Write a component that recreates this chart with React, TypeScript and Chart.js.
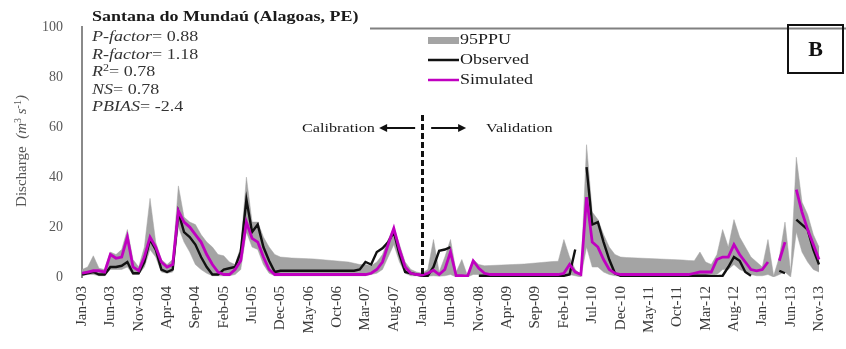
import React, { useEffect, useRef } from 'react';
import { Chart, registerables } from 'chart.js';

Chart.register(...registerables);

// Monthly series, Jan-03 (index 0) to Nov-13 (index 130), discharge in m³/s
const tickLabels = [
  'Jan-03', 'Jun-03', 'Nov-03', 'Apr-04', 'Sep-04', 'Feb-05', 'Jul-05', 'Dec-05', 'May-06',
  'Oct-06', 'Mar-07', 'Aug-07', 'Jan-08', 'Jun-08', 'Nov-08', 'Apr-09', 'Sep-09', 'Feb-10',
  'Jul-10', 'Dec-10', 'May-11', 'Oct-11', 'Mar-12', 'Aug-12', 'Jan-13', 'Jun-13', 'Nov-13',
];
const tickStep = 5; // months between labelled ticks
const splitIndex = 60; // Jan-08: calibration / validation boundary

const observed: (number | null)[] = [
  1, 1.5, 2, 1, 1, 4, 4, 4.5, 6, 1.5, 1.5, 6,
  15, 11, 3, 2, 3, 26, 18, 16, 13, 8, 4, 1,
  1, 3, 3.5, 4, 10, 31, 18, 21, 12, 6.5, 2, 2.5,
  2.5, 2.5, 2.5, 2.5, 2.5, 2.5, 2.5, 2.5, 2.5, 2.5, 2.5, 2.5,
  2.5, 3, 6, 5, 10, 11.5, 14, 18, 9, 2, 1.5, 1,
  0.5, 0.5, 4, 10.5, 11, 12, null, null, null, null, 0.5, 0.5,
  0.5, 0.5, 0.5, 0.5, 0.5, 0.5, 0.5, 0.5, 0.5, 0.5, 0.5, 0.5,
  0.5, 0.5, 1, 11, null, 44, 21, 22, 14, 7, 1.5, 0.5,
  0.5, 0.5, 0.5, 0.5, 0.5, 0.5, 0.5, 0.5, 0.5, 0.5, 0.5, 0.5,
  0.5, 0.5, 0.5, 0.3, 0.3, 0.5, 4, 8, 6.5, 2, 0.5, null,
  null, null, null, 2.5, 1.5, null, 23, 21, 19, 11, 5,
];

const simulated: (number | null)[] = [
  1.5, 2, 2.5, 2.5, 2, 9, 7.5, 8, 16, 4, 2.5, 8,
  16, 12, 6, 4, 5, 26.5, 22, 20, 17, 14, 9, 5,
  2, 1, 1, 3, 6.5, 22, 15.5, 14, 8, 3, 1, 1,
  1, 1, 1, 1, 1, 1, 1, 1, 1, 1, 1, 1,
  1, 1, 1, 1.5, 3, 6, 13, 19.5, 11, 4, 1.5, 1,
  0.8, 1.5, 2.7, 1, 3, 10, 0.5, 0.5, 0.3, 6.5, 3.5, 1.5,
  1, 1, 1, 1, 1, 1, 1, 1, 1, 1, 1, 1,
  1, 1.5, 5, 2, 1, 32, 14, 12, 7, 3, 1.5, 1,
  1, 1, 1, 1, 1, 1, 1, 1, 1, 1, 1, 1,
  1.5, 2, 2, 2, 7, 8, 8, 13, 9, 6, 3, 2.5,
  3, 6, null, 6.5, 14, null, 35, 26, 19, 13, 7,
];

const ppuLower: number[] = [
  0.5, 1, 1, 0.5, 0.5, 3, 3, 3, 4, 1, 1, 4,
  11, 8, 2, 1.5, 2, 20, 14, 10, 5, 3, 1.5, 0.5,
  0.5, 0.5, 0.5, 1, 3, 18, 12, 11, 5, 1.5, 0.5, 0.5,
  0.5, 0.5, 0.5, 0.5, 0.5, 0.5, 0.5, 0.5, 0.5, 0.5, 0.5, 0.5,
  0.5, 0.5, 0.5, 1, 1.5, 3, 8, 13, 6, 1.5, 0.5, 0.5,
  0.3, 0.3, 0.5, 0.3, 0.5, 1, 0, 0, 0, 1, 1, 0.5,
  0.3, 0.3, 0.3, 0.3, 0.3, 0.3, 0.3, 0.3, 0.3, 0.3, 0.3, 0.3,
  0.3, 0.5, 1, 0.5, 0, 12, 4, 4, 2, 1, 0.5, 0.3,
  0.3, 0.3, 0.3, 0.3, 0.3, 0.3, 0.3, 0.3, 0.3, 0.3, 0.3, 0.3,
  0.5, 0.5, 0.5, 0.5, 1, 3, 3, 5, 3, 2, 1, 0.5,
  0.5, 1, 0, 1, 2, 0, 18, 10, 6, 3, 2,
];

const ppuUpper: number[] = [
  3, 4, 8.5, 3.5, 3, 10, 9, 11, 19, 7, 4, 12,
  31.5, 14, 7, 5, 7, 36.5, 24, 22, 21, 17, 14, 12,
  9, 8.5, 6, 5, 12, 40, 22, 22, 16, 12, 9, 8,
  7.8, 7.6, 7.5, 7.4, 7.3, 7.2, 7, 6.8, 6.6, 6.4, 6.2, 6,
  5.5, 5, 5, 4.5, 6, 9, 15, 20, 13, 6, 3, 2,
  1.5, 3, 15, 2, 8, 15, 2, 7, 0.5, 7, 5, 4.5,
  4.6, 4.7, 4.8, 4.9, 5, 5.1, 5.2, 5.4, 5.6, 5.8, 6, 6.2,
  6.3, 15, 8, 3, 1, 53, 26, 23, 17, 12, 9, 8,
  7.8, 7.7, 7.6, 7.5, 7.4, 7.3, 7.2, 7.1, 7, 6.9, 6.8, 6.6,
  6.5, 10, 6, 5, 9, 19, 12, 23, 16, 12, 8, 6,
  4, 15, 0.5, 8, 22, 2, 48, 30, 25, 17, 12,
];

const serif = "'Liberation Serif', 'Times New Roman', serif";
const bandGray = '#a4a4a4';
const obsColor = '#111111';
const simColor = '#c000c0';
const sx = 1.2; // horizontal stretch of the annotation lettering

type Part = { text: string; font: string; dy?: number };

function drawParts(ctx: CanvasRenderingContext2D, parts: Part[], x: number, y: number, color = '#1a1a1a') {
  ctx.save();
  ctx.translate(x, y);
  ctx.scale(sx, 1);
  ctx.fillStyle = color;
  ctx.textBaseline = 'middle';
  ctx.textAlign = 'left';
  let cx = 0;
  for (const p of parts) {
    ctx.font = p.font;
    ctx.fillText(p.text, cx, p.dy || 0);
    cx += ctx.measureText(p.text).width;
  }
  ctx.restore();
}

const it = `italic 15px ${serif}`;
const rg = `15px ${serif}`;
const sup = `10px ${serif}`;

const overlayPlugin = {
  id: 'overlay',
  afterDatasetsDraw(chart: any) {
    const { ctx, chartArea, scales } = chart;
    const x = Math.round(scales.x.getPixelForValue(splitIndex)) + 0.5;
    ctx.save();
    ctx.strokeStyle = '#111';
    ctx.lineWidth = 3;
    ctx.setLineDash([6, 3]);
    ctx.beginPath();
    ctx.moveTo(x, 115);
    ctx.lineTo(x, chartArea.bottom);
    ctx.stroke();
    ctx.restore();
  },
  afterDraw(chart: any) {
    const { ctx, chartArea, scales } = chart;

    // frame line along the top of the plot
    ctx.save();
    ctx.strokeStyle = '#808080';
    ctx.lineWidth = 2;
    ctx.beginPath();
    ctx.moveTo(370, chartArea.top + 1);
    ctx.lineTo(chart.width, chartArea.top + 1);
    ctx.stroke();
    ctx.restore();

    // station name and goodness-of-fit statistics
    drawParts(ctx, [{ text: 'Santana do Mundaú (Alagoas, PE)', font: `bold 15px ${serif}` }], 92, 17);
    drawParts(ctx, [{ text: 'P-factor', font: it }, { text: '= 0.88', font: rg }], 92, 37, '#333');
    drawParts(ctx, [{ text: 'R-factor', font: it }, { text: '= 1.18', font: rg }], 92, 55, '#333');
    drawParts(ctx, [{ text: 'R', font: it }, { text: '2', font: sup, dy: -4 }, { text: '= 0.78', font: rg }], 92, 72, '#333');
    drawParts(ctx, [{ text: 'NS', font: it }, { text: '= 0.78', font: rg }], 92, 90, '#333');
    drawParts(ctx, [{ text: 'PBIAS', font: it }, { text: '= -2.4', font: rg }], 92, 107, '#333');

    // legend
    ctx.save();
    ctx.fillStyle = bandGray;
    ctx.fillRect(428, 37, 31, 7);
    ctx.lineWidth = 2.5;
    ctx.strokeStyle = obsColor;
    ctx.beginPath(); ctx.moveTo(428, 60); ctx.lineTo(459, 60); ctx.stroke();
    ctx.strokeStyle = simColor;
    ctx.beginPath(); ctx.moveTo(428, 80); ctx.lineTo(459, 80); ctx.stroke();
    ctx.restore();
    drawParts(ctx, [{ text: '95PPU', font: rg }], 460, 40);
    drawParts(ctx, [{ text: 'Observed', font: rg }], 460, 60);
    drawParts(ctx, [{ text: 'Simulated', font: rg }], 460, 80);

    // panel letter
    ctx.save();
    ctx.strokeStyle = '#111';
    ctx.lineWidth = 2;
    ctx.strokeRect(788, 25, 55, 48);
    ctx.fillStyle = '#111';
    ctx.font = `bold 22px ${serif}`;
    ctx.textAlign = 'center';
    ctx.textBaseline = 'middle';
    ctx.fillText('B', 815.5, 50);
    ctx.restore();

    // calibration / validation arrows
    const xs = scales.x.getPixelForValue(splitIndex);
    const ay = 128;
    ctx.save();
    ctx.strokeStyle = '#111';
    ctx.fillStyle = '#111';
    ctx.lineWidth = 2;
    ctx.beginPath(); ctx.moveTo(xs - 7, ay); ctx.lineTo(xs - 38, ay); ctx.stroke();
    ctx.beginPath(); ctx.moveTo(xs - 43, ay); ctx.lineTo(xs - 35, ay - 4); ctx.lineTo(xs - 35, ay + 4); ctx.closePath(); ctx.fill();
    ctx.beginPath(); ctx.moveTo(xs + 9, ay); ctx.lineTo(xs + 39, ay); ctx.stroke();
    ctx.beginPath(); ctx.moveTo(xs + 44, ay); ctx.lineTo(xs + 36, ay - 4); ctx.lineTo(xs + 36, ay + 4); ctx.closePath(); ctx.fill();
    ctx.restore();
    drawParts(ctx, [{ text: 'Calibration', font: `13.5px ${serif}` }], 302, ay);
    drawParts(ctx, [{ text: 'Validation', font: `13.5px ${serif}` }], 486, ay);

    // y-axis title
    ctx.save();
    ctx.translate(22, 151);
    ctx.rotate(-Math.PI / 2);
    ctx.fillStyle = '#555';
    ctx.textBaseline = 'middle';
    const parts: Part[] = [
      { text: 'Discharge  ', font: rg },
      { text: '(m', font: it },
      { text: '3', font: sup, dy: -4 },
      { text: ' s', font: it },
      { text: '-1', font: sup, dy: -4 },
      { text: ')', font: it },
    ];
    let total = 0;
    for (const p of parts) { ctx.font = p.font; total += ctx.measureText(p.text).width; }
    let cx = -total / 2;
    for (const p of parts) {
      ctx.font = p.font;
      ctx.fillText(p.text, cx, p.dy || 0);
      cx += ctx.measureText(p.text).width;
    }
    ctx.restore();
  },
};

export default function App() {
  const canvasRef = useRef<HTMLCanvasElement | null>(null);

  useEffect(() => {
    if (!canvasRef.current) return;
    const labels = observed.map((_, i) => i);
    const chart = new Chart(canvasRef.current, {
      type: 'line',
      data: {
        labels,
        datasets: [
          {
            label: 'Simulated',
            data: simulated,
            borderColor: simColor,
            borderWidth: 2.8,
            pointRadius: 0,
            fill: false,
            order: 1,
          },
          {
            label: 'Observed',
            data: observed,
            borderColor: obsColor,
            borderWidth: 2.4,
            pointRadius: 0,
            fill: false,
            order: 2,
          },
          {
            label: '95PPU',
            data: ppuUpper,
            borderColor: bandGray,
            borderWidth: 0.5,
            backgroundColor: bandGray,
            pointRadius: 0,
            fill: '+1',
            order: 3,
          },
          {
            label: '95PPU lower',
            data: ppuLower,
            borderColor: bandGray,
            borderWidth: 0.5,
            pointRadius: 0,
            fill: false,
            order: 4,
          },
        ],
      },
      options: {
        animation: false,
        responsive: true,
        maintainAspectRatio: false,
        layout: { padding: { top: 17, left: 0, right: 0, bottom: 0 } },
        plugins: {
          legend: { display: false },
          tooltip: { enabled: false },
        },
        elements: { line: { tension: 0 } },
        scales: {
          x: {
            type: 'linear',
            min: 0,
            max: 130.5,
            grid: { display: false, drawTicks: false },
            border: { display: false },
            afterBuildTicks: (scale: any) => {
              scale.ticks = tickLabels.map((_, k) => ({ value: k * tickStep }));
            },
            afterFit: (scale: any) => {
              scale.height = 72;
            },
            ticks: {
              autoSkip: false,
              minRotation: 90,
              maxRotation: 90,
              padding: 9,
              color: '#3a3a3a',
              font: { family: serif, size: 15 },
              callback: (v: any) => tickLabels[Math.round(Number(v) / tickStep)] ?? '',
            },
          },
          y: {
            min: 0,
            max: 100,
            grid: { display: false, drawTicks: false },
            border: { display: true, color: '#8a8a8a', width: 2 },
            afterFit: (scale: any) => {
              scale.width = 82;
            },
            ticks: {
              stepSize: 20,
              padding: 19,
              color: '#595959',
              font: { family: serif, size: 14 },
            },
          },
        },
      },
      plugins: [overlayPlugin],
    });
    return () => chart.destroy();
  }, []);

  return (
    <div style={{ position: 'fixed', left: 0, top: 0, width: 846, height: 349, background: '#fff' }}>
      <canvas ref={canvasRef} />
    </div>
  );
}
